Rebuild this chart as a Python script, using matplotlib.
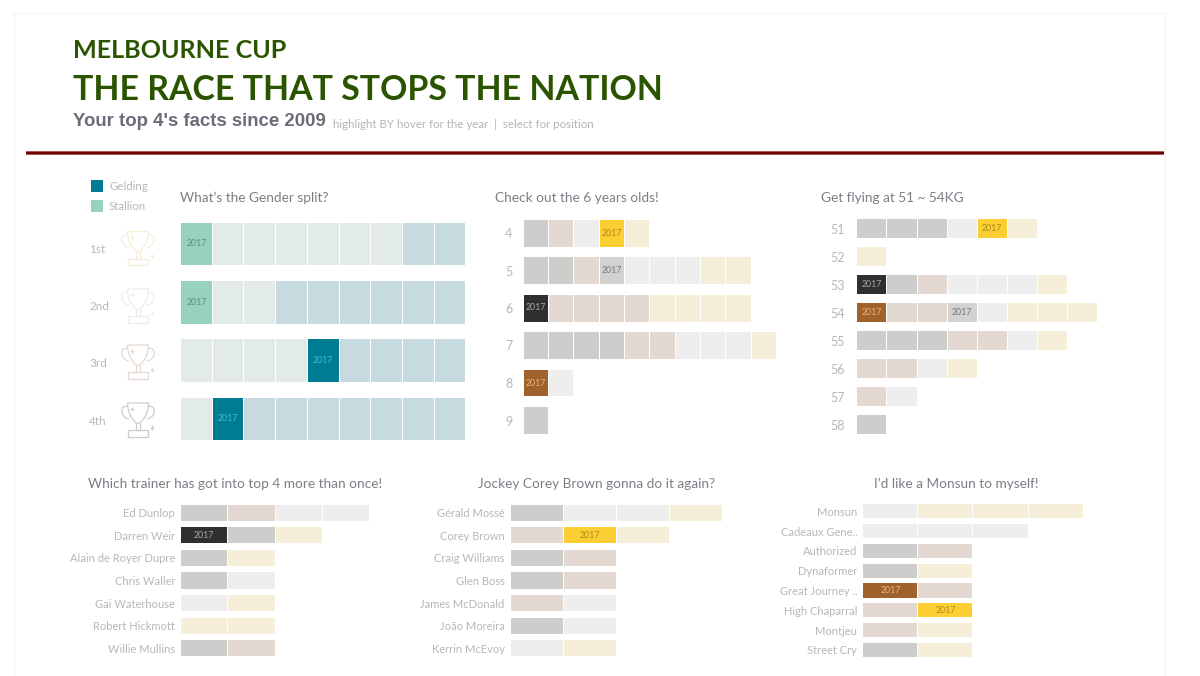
import matplotlib
matplotlib.use('Agg')
import matplotlib.pyplot as plt
from matplotlib.patches import Rectangle, PathPatch
from matplotlib.path import Path

W, H = 1200, 676

# finishing position of each top-4 horse per category, 1 = winner
gender_labels = ['1st', '2nd', '3rd', '4th']
gender_rows = [['S', 'S', 'S', 'S', 'S', 'S', 'S', 'G', 'G'],
               ['S', 'S', 'S', 'G', 'G', 'G', 'G', 'G', 'G'],
               ['S', 'S', 'S', 'S', 'G', 'G', 'G', 'G', 'G'],
               ['S', 'G', 'G', 'G', 'G', 'G', 'G', 'G', 'G']]
gender_2017 = [[0], [0], [4], [1]]

age_labels = ['4', '5', '6', '7', '8', '9']
age_rows = [[4, 3, 2, 1, 1],
            [4, 4, 3, 2, 2, 2, 2, 1, 1],
            [4, 3, 3, 3, 3, 1, 1, 1, 1],
            [4, 4, 4, 4, 3, 3, 2, 2, 2, 1],
            [3, 2],
            [4]]
age_2017 = [[3], [3], [0], [], [0], []]

weight_labels = ['51', '52', '53', '54', '55', '56', '57', '58']
weight_rows = [[4, 4, 4, 2, 1, 1],
               [1],
               [4, 4, 3, 2, 2, 2, 1],
               [3, 3, 3, 2, 2, 1, 1, 1],
               [4, 4, 4, 3, 3, 2, 1],
               [3, 3, 2, 1],
               [3, 2],
               [4]]
weight_2017 = [[4], [], [0], [0, 3], [], [], [], []]

trainer_labels = ['Ed Dunlop', 'Darren Weir', 'Alain de Royer Dupre', 'Chris Waller',
                  'Gai Waterhouse', 'Robert Hickmott', 'Willie Mullins']
trainer_rows = [[4, 3, 2, 2], [4, 4, 1], [4, 1], [4, 2], [2, 1], [1, 1], [4, 3]]
trainer_2017 = [[], [0], [], [], [], [], []]

jockey_labels = ['Gérald Mossé', 'Corey Brown', 'Craig Williams', 'Glen Boss',
                 'James McDonald', 'João Moreira', 'Kerrin McEvoy']
jockey_rows = [[4, 2, 2, 1], [3, 1, 1], [4, 3], [4, 3], [3, 2], [4, 2], [2, 1]]
jockey_2017 = [[], [1], [], [], [], [], []]

sire_labels = ['Monsun', 'Cadeaux Gene..', 'Authorized', 'Dynaformer',
               'Great Journey ..', 'High Chaparral', 'Montjeu', 'Street Cry']
sire_rows = [[2, 1, 1, 1], [2, 2, 2], [4, 3], [4, 1], [3, 3], [3, 1], [3, 1], [4, 1]]
sire_2017 = [[], [], [], [], [0], [1], [], []]

faded = {1: '#f5eed8', 2: '#eeeeee', 3: '#e3d9d2', 4: '#cdcdcb', 'S': '#e2ebe8', 'G': '#c7dae0'}
solid = {1: '#fbcf33', 2: '#d2d2d0', 3: '#a0622d', 4: '#2f2f2d', 'S': '#97d1bf', 'G': '#007b94'}
year_col = {1: '#a98a1c', 2: '#77777a', 3: '#ecb27e', 4: '#a9a9a9', 'S': '#5f8f80', 'G': '#3fbdd2'}

TEXT = '#7b7f85'
LABEL = '#b5b7ba'
FONT = 'Lato'
plt.rcParams['font.family'] = FONT

fig = plt.figure(figsize=(W / 100, H / 100), dpi=100, facecolor='white')

bg = fig.add_axes([0, 0, 1, 1])
bg.set_xlim(0, W)
bg.set_ylim(H, 0)
bg.axis('off')


def panel(left, first_y, step, unit, n_units, labels, rows, hits, bar_h, pad, year_size=6.3, label_size=8):
    # axes placed in pixels, bars drawn in row / cell units
    top = first_y - step / 2
    height = step * len(rows)
    ax = fig.add_axes([left / W, 1 - (top + height) / H, unit * n_units / W, height / H])
    ax.set_xlim(0, n_units)
    ax.set_ylim(len(rows) - 0.5, -0.5)
    ax.patch.set_alpha(0)
    gap = 1.0 / unit
    for r, row in enumerate(rows):
        for i, v in enumerate(row):
            col = solid[v] if i in hits[r] else faded[v]
            ax.barh(r, 1 - gap, left=i, height=bar_h, color=col, linewidth=0)
            if i in hits[r]:
                ax.text(i + 0.5 - gap / 2, r, '2017', ha='center', va='center',
                        fontsize=year_size, color=year_col[v])
    ax.set_xticks([])
    ax.set_yticks(range(len(labels)))
    ax.set_yticklabels(labels, fontsize=label_size, color=LABEL)
    ax.tick_params(axis='y', length=0, pad=pad * 0.72)
    for s in ax.spines.values():
        s.set_visible(False)
    return ax


ax = panel(181, 244, 58.3, 31.72, 9, gender_labels, gender_rows, gender_2017, 0.73, 92, label_size=8.5)
# these labels sit a little below their bars, next to the cups
ax.set_yticks([0.07, 1.06, 2.03, 3.02])
ax.set_yticklabels(gender_labels, fontsize=8.5, color=LABEL, ha='left')
panel(523.5, 233, 37.5, 25.35, 10, age_labels, age_rows, age_2017, 0.72, 11, label_size=9)
panel(857.3, 228.5, 28, 30.1, 8, weight_labels, weight_rows, weight_2017, 0.71, 12, label_size=9)
panel(181, 512.7, 22.6, 47.3, 4, trainer_labels, trainer_rows, trainer_2017, 0.71, 6)
panel(510.7, 512.7, 22.6, 53.1, 4, jockey_labels, jockey_rows, jockey_2017, 0.71, 6)
panel(863.3, 511.3, 19.8, 55.1, 4, sire_labels, sire_rows, sire_2017, 0.71, 6)


def trophy(cx, cy, col):
    # little cup icon, s = half size in px
    s = 17
    kw = dict(fill=False, edgecolor=col, linewidth=0.9)
    M, L, C = Path.MOVETO, Path.LINETO, Path.CURVE3
    shapes = [
        # bowl
        ([(-0.62, -1), (0.62, -1), (0.62, -0.3), (0.12, 0.18), (0.12, 0.18), (-0.12, 0.18), (-0.12, 0.18), (-0.62, -0.3), (-0.62, -1)],
         [M, L, C, C, L, L, L, C, C]),
        # handles
        ([(-0.62, -0.8), (-1.0, -0.85), (-0.95, -0.45), (-0.85, -0.1), (-0.52, -0.05)], [M, C, C, C, C]),
        ([(0.62, -0.8), (1.0, -0.85), (0.95, -0.45), (0.85, -0.1), (0.52, -0.05)], [M, C, C, C, C]),
        # stem
        ([(-0.14, 0.18), (-0.14, 0.6), (0.14, 0.6), (0.14, 0.18)], [M, L, L, L]),
        # base
        ([(-0.6, 0.6), (0.6, 0.6), (0.6, 0.98), (-0.6, 0.98), (-0.6, 0.6)], [M, L, L, L, L]),
        # sparkles
        ([(0.68, 0.45), (0.94, 0.45), (0.81, 0.32), (0.81, 0.58)], [M, L, M, L]),
        ([(-0.48, -0.65), (-0.22, -0.65), (-0.35, -0.78), (-0.35, -0.52)], [M, L, M, L]),
    ]
    for pts, codes in shapes:
        v = [(cx + x * s, cy + y * s) for x, y in pts]
        bg.add_patch(PathPatch(Path(v, codes), **kw))


for cy, pos in zip([248.5, 306, 362, 420], [1, 2, 3, 4]):
    trophy(138, cy, faded[pos])

# frame and rule
bg.add_patch(Rectangle((14, 13), 1151, 680, fill=False, edgecolor='#f5f5f5', linewidth=1))
bg.plot([26, 1164], [152.7, 152.7], color='#a04040', lw=2.6, solid_capstyle='butt')
bg.plot([26, 1164], [152.7, 152.7], color='#6e0000', lw=1.6, solid_capstyle='butt')

# headings
bg.text(73, 50, 'MELBOURNE CUP', fontsize=18.1, fontweight='bold', color='#2b5400', va='center', family='Lato')
bg.text(73, 90, 'THE RACE THAT STOPS THE NATION', fontsize=24.4, fontweight='bold', color='#2b5400', va='center', family='Lato')
bg.text(73, 121, "Your top 4's facts since 2009", fontsize=13.4, fontweight='bold', color='#6a6d78', va='center', family='Liberation Sans')
bg.text(333, 124.5, 'highlight BY hover for the year  |  select for position', fontsize=8.3, color='#b4b4b8', va='center')

titles = [(180, 198, "What’s the Gender split?"),
          (495, 198, 'Check out the 6 years olds!'),
          (821, 198, 'Get flying at 51 ~ 54KG'),
          (88, 484, 'Which trainer has got into top 4 more than once!'),
          (478, 484, 'Jockey Corey Brown gonna do it again?'),
          (874, 484, 'I’d like a Monsun to myself!')]
for x, y, s in titles:
    bg.text(x, y, s, fontsize=9.77, color=TEXT, va='center')

# legend
for y, name, key in [(185.5, 'Gelding', 'G'), (205.5, 'Stallion', 'S')]:
    bg.add_patch(Rectangle((91, y - 6), 12, 12, facecolor=solid[key], linewidth=0))
    bg.text(109, y + 0.8, name, fontsize=8.3, color=LABEL, va='center')

fig.savefig('out.png', dpi=100, facecolor='white')
